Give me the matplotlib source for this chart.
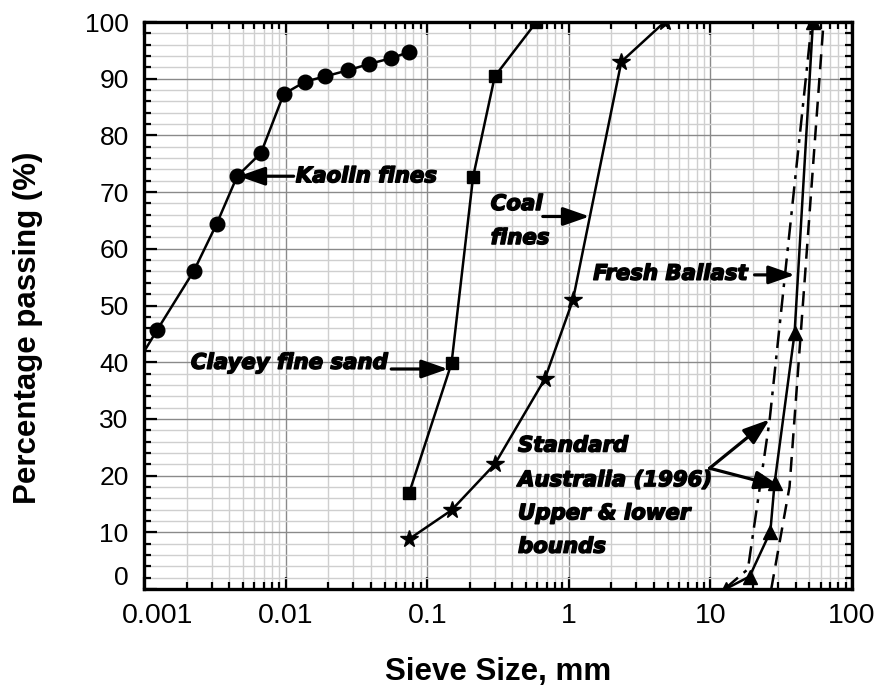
import matplotlib
matplotlib.use("Agg")
import matplotlib.pyplot as plt
import matplotlib.patheffects as pe
import numpy as np
from matplotlib.ticker import LogLocator, MultipleLocator, NullFormatter

# grading curves (sieve size in mm, % passing)
kaolin_x = [0.0007, 0.00124, 0.00225, 0.00326, 0.00455, 0.0067, 0.0097,
            0.0138, 0.019, 0.0277, 0.0389, 0.0554, 0.0745]
kaolin_y = [35.5, 45.7, 56.1, 64.4, 72.8, 76.9, 87.3, 89.5, 90.4, 91.5,
            92.6, 93.6, 94.7]

sand_x = [0.0745, 0.1485, 0.211, 0.300, 0.59]
sand_y = [16.9, 39.8, 72.7, 90.4, 100]

coal_x = [0.0745, 0.1485, 0.300, 0.676, 1.07, 2.35, 4.75]
coal_y = [8.8, 13.9, 22.0, 37.0, 51.0, 93.0, 100]

ballast_x = [12.8, 18.9, 26.5, 28.4, 39.3, 53]
ballast_y = [0, 2.2, 10.1, 18.7, 45.1, 100]

upper_x = [12.6, 18.4, 26.2, 52]
upper_y = [0, 3.5, 29.8, 100]

lower_x = [26.9, 36.2, 63]
lower_y = [0, 18.0, 100]

x_ticks = [0.001, 0.01, 0.1, 1, 10, 100]
x_labels = ["0.001", "0.01", "0.1", "1", "10", "100"]
y_ticks = list(range(0, 101, 10))

SANS = ["Liberation Sans", "DejaVu Sans"]
NOTE = dict(family="DejaVu Sans", fontsize=15.3, fontweight="bold", fontstyle="italic",
            path_effects=[pe.withStroke(linewidth=1.1, foreground="black")])
ARROW = dict(arrowstyle="-|>,head_length=0.8,head_width=0.28", color="black",
             lw=2.3, mutation_scale=20, shrinkA=0, shrinkB=0)

fig = plt.figure(figsize=(8.81, 6.93), dpi=100)
ax = fig.add_axes([144 / 881, 1 - 589 / 693, 708 / 881, 567 / 693])

ax.set_xscale("log")
ax.set_xlim(0.001, 100)
ax.set_ylim(0, 100)

ax.xaxis.set_minor_locator(LogLocator(base=10, subs=np.arange(2, 10)))
ax.xaxis.set_minor_formatter(NullFormatter())
ax.yaxis.set_minor_locator(MultipleLocator(2))
ax.grid(which="minor", color="#cfcfcf", lw=1.0, zorder=0)
ax.grid(which="major", color="#8a8a8a", lw=1.0, zorder=0)
ax.set_axisbelow(True)

lw = 1.8
ax.plot(kaolin_x, kaolin_y, "k-", marker="o", ms=10.5, lw=lw, zorder=3)
ax.plot(sand_x, sand_y, "k-", marker="s", ms=8, lw=lw, zorder=3)
ax.plot(coal_x, coal_y, "k-", marker="*", ms=13, lw=lw, zorder=3)
ax.plot(ballast_x, ballast_y, "k-", marker="^", ms=10, lw=lw, zorder=3)
ax.plot(upper_x, upper_y, color="black", ls=(0, (7, 3, 1.5, 3)), lw=lw, zorder=3)
ax.plot(lower_x, lower_y, color="black", ls=(0, (6, 3.5)), lw=lw, zorder=3)

# ticks
ax.set_xticks(x_ticks)
ax.set_xticklabels([""] + x_labels[1:])
ax.set_yticks(y_ticks)
ax.set_yticklabels([""] + [str(v) for v in y_ticks[1:]])
ax.tick_params(which="both", direction="in", top=True, right=True, width=1.6)
ax.tick_params(which="major", length=9)
ax.tick_params(which="minor", length=5)
ax.tick_params(axis="x", which="major", labelsize=20.5, pad=10)
ax.tick_params(axis="y", which="major", labelsize=19, pad=11)
for lab in ax.get_xticklabels() + ax.get_yticklabels():
    lab.set_family(SANS)
for sp in ax.spines.values():
    sp.set_linewidth(2.4)

# the two corner labels sit a little off their ticks
ax.annotate("0.001", xy=(0.001, 0), xycoords=("data", "axes fraction"),
            xytext=(9.5, -10), textcoords="offset points", ha="center", va="top",
            fontsize=20.5, family=SANS)
ax.annotate("0", xy=(0, 0), xycoords=("axes fraction", "data"),
            xytext=(-11, 8), textcoords="offset points", ha="right", va="center",
            fontsize=19, family=SANS)

# axis titles
fig.text(28 / 881, 1 - 328 / 693, "Percentage passing (%)", rotation=90,
         ha="center", va="center", fontsize=22.5, fontweight="bold", family=SANS)
fig.text(498 / 881, 1 - 680 / 693, "Sieve Size, mm", ha="center", va="baseline",
         fontsize=22.5, fontweight="bold", family=SANS)

# annotations
ax.text(0.0118, 72.8, "Kaolin fines", ha="left", va="center", **NOTE)
ax.annotate("", xy=(0.00465, 72.8), xytext=(0.0114, 72.8), arrowprops=ARROW, zorder=4)

ax.text(0.0527, 39.9, "Clayey fine sand", ha="right", va="center", **NOTE)
ax.annotate("", xy=(0.140, 38.8), xytext=(0.0557, 38.8), arrowprops=ARROW, zorder=4)

ax.text(0.281, 67.9, "Coal", ha="left", va="center", **NOTE)
ax.text(0.281, 61.9, "fines", ha="left", va="center", **NOTE)
ax.annotate("", xy=(1.40, 65.7), xytext=(0.655, 65.7), arrowprops=ARROW, zorder=4)

ax.text(18.3, 55.6, "Fresh Ballast", ha="right", va="center", **NOTE)
ax.annotate("", xy=(39.5, 55.4), xytext=(20.5, 55.4), arrowprops=ARROW, zorder=4)

for yy, line in zip([25.3, 19.2, 13.35, 7.46],
                    ["Standard", "Australia (1996)", "Upper & lower", "bounds"]):
    ax.text(0.438, yy, line, ha="left", va="center", **NOTE)
ax.annotate("", xy=(26.2, 29.9), xytext=(9.87, 21.3), arrowprops=ARROW, zorder=4)
ax.annotate("", xy=(31.6, 18.0), xytext=(9.87, 21.3), arrowprops=ARROW, zorder=4)

fig.savefig("out.png", dpi=100)
